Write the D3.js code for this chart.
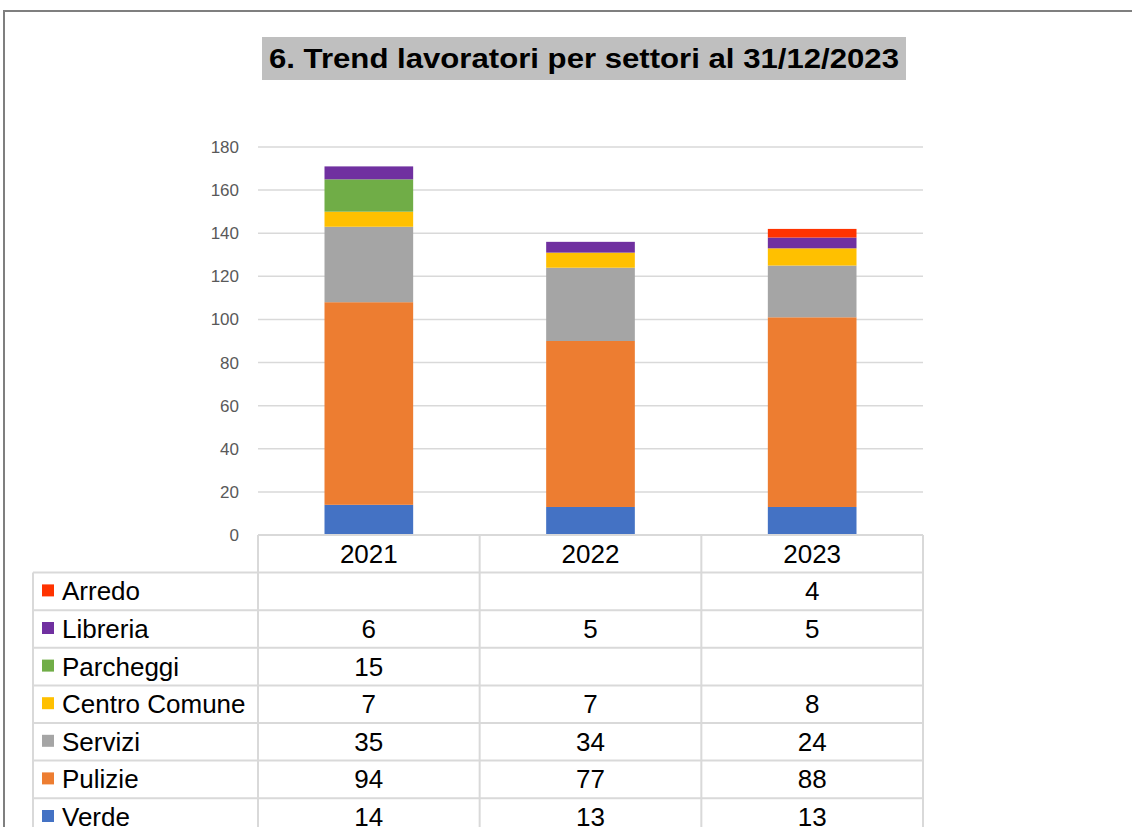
<!DOCTYPE html>
<html><head><meta charset="utf-8">
<script src="https://cdn.jsdelivr.net/npm/d3@7"></script>
<style>html,body{margin:0;padding:0;background:#fff;}svg{display:block;}</style>
</head><body>
<script>
const years = ["2021","2022","2023"];
const seriesNames = ["Verde","Pulizie","Servizi","Centro Comune","Parcheggi","Libreria","Arredo"];
const verde = [14,13,13];
const pulizie = [94,77,88];
const servizi = [35,34,24];
const centroComune = [7,7,8];
const parcheggi = [15,null,null];
const libreria = [6,5,5];
const arredo = [null,null,4];
const colors = ["#4472C4","#ED7D31","#A5A5A5","#FFC000","#70AD47","#7030A0","#FF3300"];
const yTicks = [0,20,40,60,80,100,120,140,160,180];
const title = "6. Trend lavoratori per settori al 31/12/2023";

const values = [verde,pulizie,servizi,centroComune,parcheggi,libreria,arredo];
const W=1132,H=827;
const svg=d3.select("body").append("svg").attr("width",W).attr("height",H);
const font="Liberation Sans, Arial, sans-serif";

// frame
svg.append("line").attr("x1",4).attr("x2",W).attr("y1",11).attr("y2",11).attr("stroke","#7f7f7f").attr("stroke-width",2);
svg.append("line").attr("x1",4).attr("x2",4).attr("y1",10).attr("y2",H).attr("stroke","#7f7f7f").attr("stroke-width",2);

// title
svg.append("rect").attr("x",262).attr("y",37).attr("width",644).attr("height",43).attr("fill","#BFBFBF");
svg.append("text").attr("x",584).attr("y",68).attr("text-anchor","middle")
  .attr("font-family",font).attr("font-weight","bold").attr("font-size",28)
  .attr("textLength",630).attr("lengthAdjust","spacingAndGlyphs")
  .text(title);

const x0=258,x1=923,yTop=147,yBot=535;
const x=d3.scaleBand().domain(years).range([x0,x1]).paddingInner(0.6).paddingOuter(0.3);
const y=d3.scaleLinear().domain([0,180]).range([yBot,yTop]);

// gridlines
svg.append("g").selectAll("line").data(yTicks.filter(t=>t>0)).join("line")
  .attr("x1",x0).attr("x2",x1).attr("y1",d=>y(d)).attr("y2",d=>y(d))
  .attr("stroke","#D9D9D9").attr("stroke-width",1.5);

// y axis labels
const yAxis=d3.axisLeft(y).tickValues(yTicks).tickSize(0).tickPadding(0);
const ya=svg.append("g").attr("transform","translate(239,0)").call(yAxis);
ya.select(".domain").remove();
ya.selectAll("text").attr("font-family",font).attr("font-size",17).attr("fill","#595959");

// stacked bars
const rows=years.map((yr,i)=>{const o={year:yr};seriesNames.forEach((s,k)=>o[s]=values[k][i]||0);return o;});
const stack=d3.stack().keys(seriesNames)(rows);
svg.append("g").selectAll("g").data(stack).join("g").attr("fill",(d,i)=>colors[i])
  .selectAll("rect").data(d=>d).join("rect")
  .attr("x",d=>x(d.data.year)).attr("width",x.bandwidth())
  .attr("y",d=>y(d[1])).attr("height",d=>y(d[0])-y(d[1]));

// data table
const rowH=37.6, tableTop=yBot, legendLeft=33;
const colEdges=[x0,x0+(x1-x0)/3,x0+2*(x1-x0)/3,x1];
const grid="#D9D9D9";
const fs=26;
const tg=svg.append("g");
tg.append("line").attr("x1",x0).attr("x2",x1).attr("y1",tableTop).attr("y2",tableTop).attr("stroke",grid).attr("stroke-width",2);
for(let r=1;r<=8;r++){
  const yy=tableTop+r*rowH;
  tg.append("line").attr("x1",legendLeft).attr("x2",x1).attr("y1",yy).attr("y2",yy).attr("stroke",grid).attr("stroke-width",2);
}
colEdges.forEach(cx=>tg.append("line").attr("x1",cx).attr("x2",cx).attr("y1",tableTop).attr("y2",H).attr("stroke",grid).attr("stroke-width",2));
tg.append("line").attr("x1",legendLeft).attr("x2",legendLeft).attr("y1",tableTop+rowH).attr("y2",H).attr("stroke",grid).attr("stroke-width",2);

years.forEach(yr=>{
  tg.append("text").attr("x",x(yr)+x.bandwidth()/2).attr("y",tableTop+rowH/2+9).attr("text-anchor","middle")
    .attr("font-family",font).attr("font-size",fs).attr("fill","#000").text(yr);
});
const order=seriesNames.map((s,i)=>i).reverse();
order.forEach((k,r)=>{
  const cy=tableTop+(r+1)*rowH+rowH/2;
  tg.append("rect").attr("x",42).attr("y",cy-7).attr("width",12).attr("height",12).attr("fill",colors[k]);
  tg.append("text").attr("x",62).attr("y",cy+9).attr("font-family",font).attr("font-size",fs).attr("fill","#000").text(seriesNames[k]);
  years.forEach((yr,i)=>{
    const v=values[k][i];
    if(v!=null) tg.append("text").attr("x",x(yr)+x.bandwidth()/2).attr("y",cy+9).attr("text-anchor","middle")
      .attr("font-family",font).attr("font-size",fs).attr("fill","#000").text(v);
  });
});
</script>
</body></html>
